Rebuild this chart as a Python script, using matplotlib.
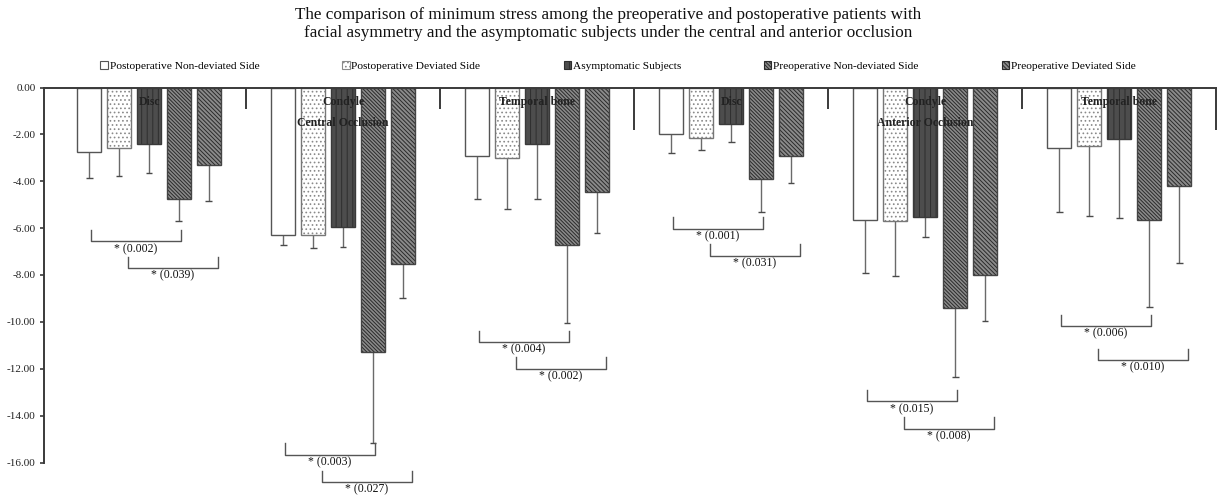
import matplotlib
matplotlib.use("Agg")
import matplotlib.pyplot as plt
from matplotlib.patches import Patch
import numpy as np

plt.rcParams['font.family'] = ['Liberation Serif', 'DejaVu Serif']
plt.rcParams['hatch.linewidth'] = 0.7

# ---------------- data ----------------
inner_labels = ["Disc", "Condyle", "Temporal bone", "Disc", "Condyle", "Temporal bone"]
outer_labels = ["Central Occlusion", "Anterior Occlusion"]
series_names = ["Postoperative Non-deviated Side", "Postoperative Deviated Side",
                "Asymptomatic Subjects", "Preoperative Non-deviated Side",
                "Preoperative Deviated Side"]

post_nondev = [-2.74, -6.31, -2.92, -2.00, -5.65, -2.57]
post_dev    = [-2.60, -6.31, -2.99, -2.17, -5.71, -2.51]
asymptom    = [-2.41, -5.95, -2.41, -1.56, -5.52, -2.20]
pre_nondev  = [-4.77, -11.30, -6.72, -3.92, -9.42, -5.65]
pre_dev     = [-3.31, -7.54, -4.47, -2.92, -7.98, -4.20]

sd_post_nondev = [1.13, 0.42, 1.82, 0.78, 2.25, 2.76]
sd_post_dev    = [1.18, 0.55, 2.21, 0.48, 2.33, 2.96]
sd_asymptom    = [1.25, 0.84, 2.33, 0.78, 0.86, 3.35]
sd_pre_nondev  = [0.94, 3.85, 3.34, 1.41, 2.94, 3.70]
sd_pre_dev     = [1.54, 1.45, 1.75, 1.17, 1.97, 3.27]

# significance brackets: (group index, first bar, second bar), top y, p-value
bracket_group = [0, 0, 1, 1, 2, 2, 3, 3, 4, 4, 5, 5]
bracket_from  = [0, 1, 0, 1, 0, 1, 0, 1, 0, 1, 0, 1]
bracket_to    = [3, 4, 3, 4, 3, 4, 3, 4, 3, 4, 3, 4]
bracket_top   = [-6.08, -7.22, -15.18, -16.35, -10.37, -11.51,
                 -5.54, -6.69, -12.90, -14.07, -9.69, -11.14]
bracket_p     = ["0.002", "0.039", "0.003", "0.027", "0.004", "0.002",
                 "0.001", "0.031", "0.015", "0.008", "0.006", "0.010"]

yticks = [0, -2, -4, -6, -8, -10, -12, -14, -16]

# ---------------- style ----------------
values = [post_nondev, post_dev, asymptom, pre_nondev, pre_dev]
sds = [sd_post_nondev, sd_post_dev, sd_asymptom, sd_pre_nondev, sd_pre_dev]
faces = ["white", "white", "#4d4d4d", "#8a8a8a", "#8a8a8a"]
edges = ["#555555", "#8a8a8a", "#2e2e2e", "#2a2a2a", "#2a2a2a"]
hatches = [None, "....", "|||", "\\\\\\\\\\\\\\\\\\", "\\\\\\\\\\\\\\\\"]
outline = ["#555555", "#777777", "#3a3a3a", "#444444", "#444444"]

fig = plt.figure(figsize=(12.17, 4.95), dpi=100)
ax = fig.add_axes([44 / 1217, (495 - 462.5) / 495, 1173 / 1217, 375 / 495])

n_groups = len(inner_labels)
offsets = (np.arange(5) - 2) * 0.1546
width = 0.124
gx = np.arange(n_groups) + 0.5

for k in range(5):
    x = gx + offsets[k]
    ax.bar(x, values[k], width=width, color=faces[k], edgecolor=edges[k],
           hatch=hatches[k], linewidth=0, zorder=2)
    ax.bar(x, values[k], width=width, fill=False, edgecolor=outline[k],
           linewidth=1.0, zorder=3)
    low = np.array(values[k]) - np.array(sds[k])
    ax.vlines(x, values[k], low, color="#6a6a6a", linewidth=1.0, zorder=1)
    ax.hlines(low, x - 0.018, x + 0.018, color="#4a4a4a", linewidth=1.0, zorder=1)

# category axis at y=0 (top): boundary ticks
bounds = np.arange(1, n_groups + 1)
tick_len = [0.9 if (b % 3) else 1.8 for b in bounds]
ax.vlines(bounds, 0, -np.array(tick_len), color="#3a3a3a", linewidth=1.4, zorder=4)
ax.axhline(0, color="#3a3a3a", linewidth=1.4, zorder=5, clip_on=False)

for i, lab in enumerate(inner_labels):
    ax.text(gx[i], -0.6, lab, ha="center", va="center", fontsize=8.5,
            fontweight="bold", color="#222222", zorder=6)
for j, lab in enumerate(outer_labels):
    ax.text(gx[1 + 3 * j], -1.53, lab, ha="center", va="center", fontsize=8.5,
            fontweight="bold", color="#222222", zorder=6)

# brackets
drop = 0.48
for g, a, b, top, p in zip(bracket_group, bracket_from, bracket_to, bracket_top, bracket_p):
    shift = 0.008 if a == 0 else 0.045
    x0 = gx[g] + offsets[a] + shift
    x1 = gx[g] + offsets[b] + shift
    bot = top - drop
    ax.plot([x0, x0, x1, x1], [top, bot, bot, top], color="#555555",
            linewidth=1.0, clip_on=False, zorder=4)
    ax.text((x0 + x1) / 2, bot - 0.33, "* (" + p + ")", ha="center", va="center",
            fontsize=8.5, color="#111111", clip_on=False)

ax.set_xlim(-0.0412, 6.005)
ax.set_ylim(-16, 0)
ax.set_yticks(yticks)
ax.set_yticklabels(["%.2f" % v for v in yticks], fontsize=8, color="#222222")
ax.tick_params(axis="y", direction="out", length=3, width=1.2, color="#3a3a3a", pad=3)
ax.set_xticks([])
for s in ["top", "right", "bottom"]:
    ax.spines[s].set_visible(False)
ax.spines["left"].set_color("#3a3a3a")
ax.spines["left"].set_linewidth(1.4)

# legend
handles = [Patch(facecolor=faces[k], edgecolor=edges[k], hatch=hatches[k],
                 linewidth=0.8) for k in range(5)]
fig.legend(handles, series_names, loc="center", bbox_to_anchor=(618 / 1217, 1 - 66 / 495),
           ncol=5, frameon=False, fontsize=8.2, handlelength=0.65, handleheight=0.65,
           handletextpad=0.15, columnspacing=7.3, borderaxespad=0)

fig.text(0.5, 1 - 24 / 495,
         "The comparison of minimum stress among the preoperative and postoperative patients with\n"
         "facial asymmetry and the asymptomatic subjects under the central and anterior occlusion",
         ha="center", va="center", fontsize=12.3, linespacing=1.15, color="#111111")

fig.savefig("out.png", dpi=100)
